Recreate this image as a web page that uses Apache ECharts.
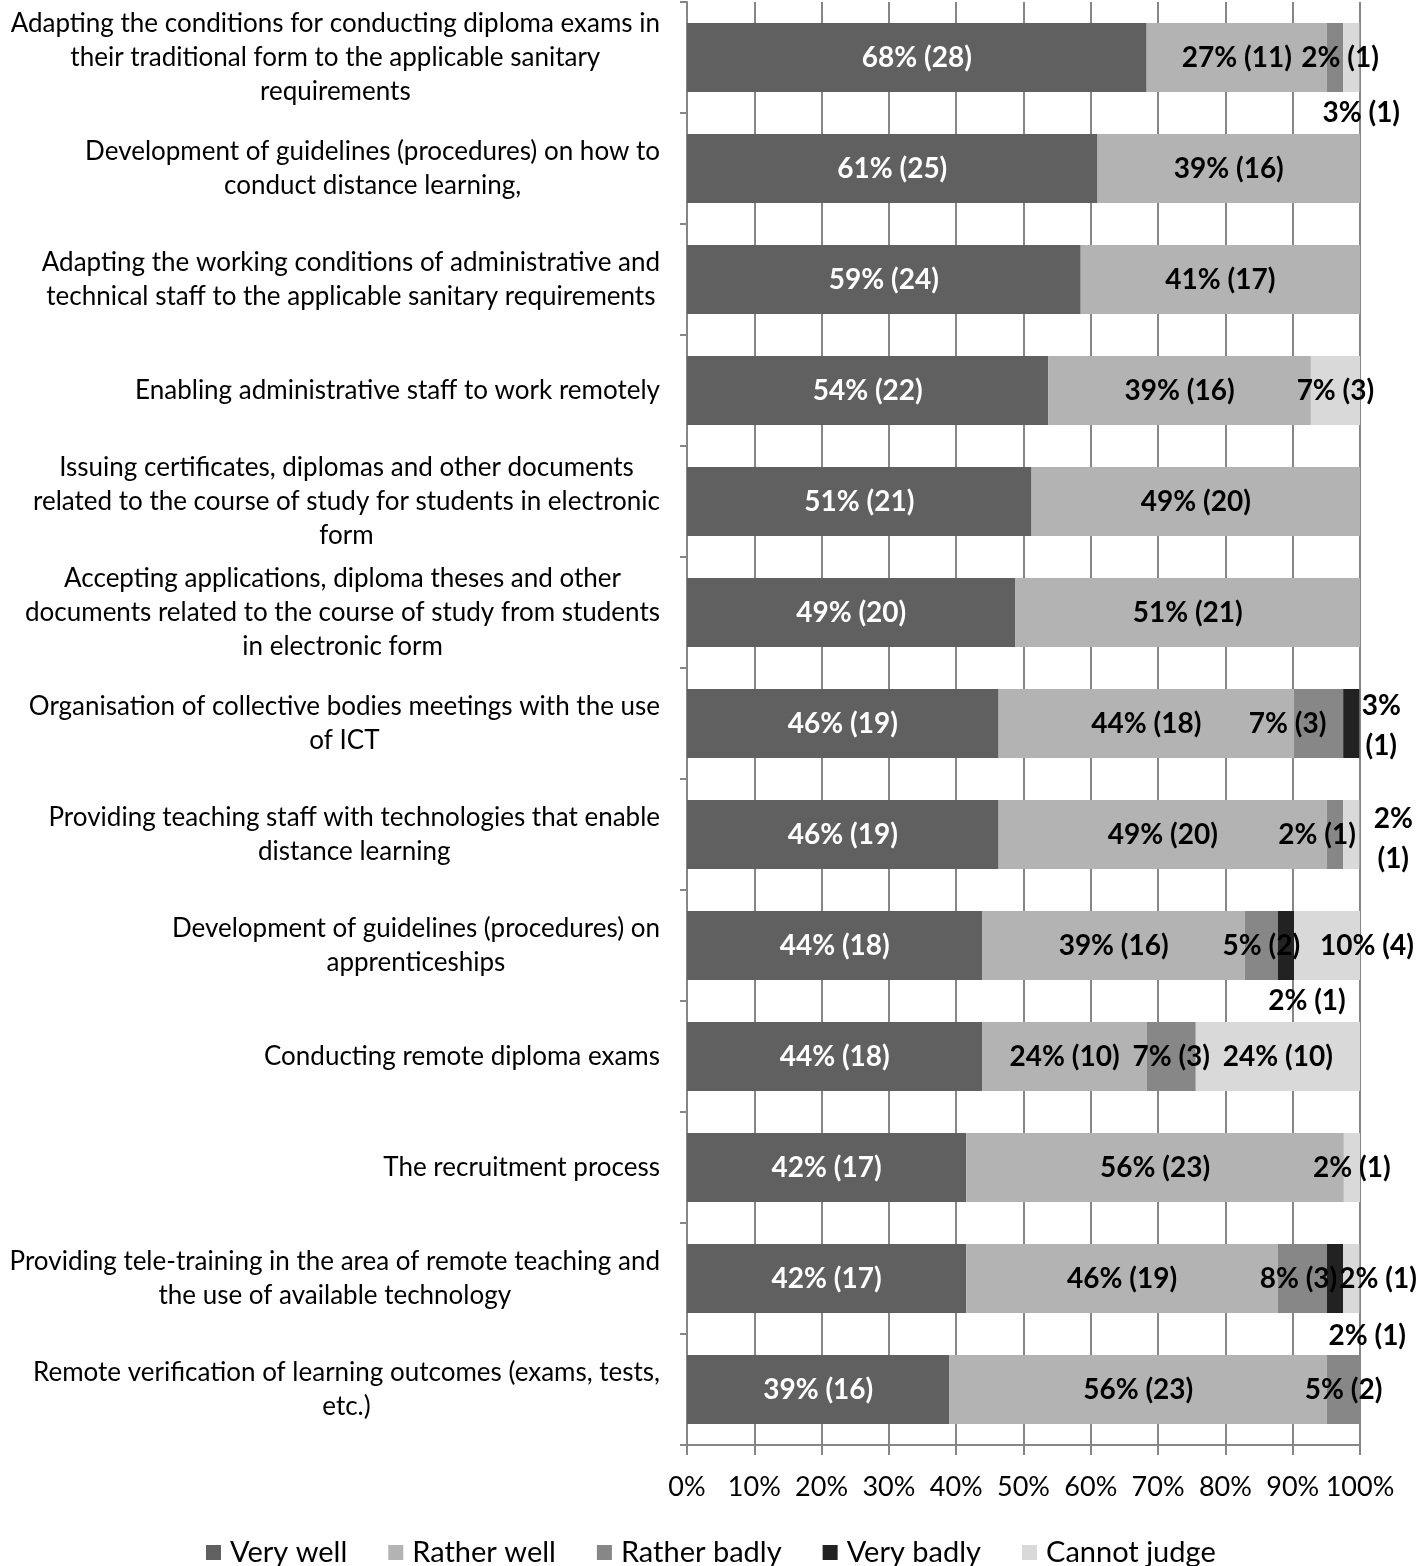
<!DOCTYPE html>
<html>
<head>
<meta charset="utf-8">
<script src="https://cdn.jsdelivr.net/npm/echarts@6/dist/echarts.min.js"></script>
<style>
html,body{margin:0;padding:0;background:#fff;}
#chart{width:1417px;height:1566px;}
</style>
</head>
<body>
<div id="chart"></div>
<script>
// ---- data ----
const categories = [
  "Adapting the conditions for conducting diploma exams in\ntheir traditional form to the applicable sanitary\nrequirements",
  "Development of guidelines (procedures) on how to\nconduct distance learning,",
  "Adapting the working conditions of administrative and\ntechnical staff to the applicable sanitary requirements",
  "Enabling administrative staff to work remotely",
  "Issuing certificates, diplomas and other documents\nrelated to the course of study for students in electronic\nform",
  "Accepting applications, diploma theses and other\ndocuments related to the course of study from students\nin electronic form",
  "Organisation of collective bodies meetings with the use\nof ICT",
  "Providing teaching staff with technologies that enable\ndistance learning",
  "Development of guidelines (procedures) on\napprenticeships",
  "Conducting remote diploma exams",
  "The recruitment process",
  "Providing tele-training in the area of remote teaching and\nthe use of available technology",
  "Remote verification of learning outcomes (exams, tests,\netc.)"
];
const seriesNames = ["Very well", "Rather well", "Rather badly", "Very badly", "Cannot judge"];

const veryWell    = [68.3, 61.0, 58.5, 53.7, 51.2, 48.8, 46.3, 46.3, 43.9, 43.9, 41.5, 41.5, 39.0];
const ratherWell  = [26.8, 39.0, 41.5, 39.0, 48.8, 51.2, 43.9, 48.8, 39.0, 24.4, 56.1, 46.3, 56.1];
const ratherBadly = [2.4, 0, 0, 0, 0, 0, 7.3, 2.4, 4.9, 7.3, 0, 7.3, 4.9];
const veryBadly   = [0, 0, 0, 0, 0, 0, 2.4, 0, 2.4, 0, 0, 2.4, 0];
const cannotJudge = [2.4, 0, 0, 7.3, 0, 0, 0, 2.4, 9.8, 24.4, 2.4, 2.4, 0];

const veryWellLabels    = ["68% (28)", "61% (25)", "59% (24)", "54% (22)", "51% (21)", "49% (20)", "46% (19)", "46% (19)", "44% (18)", "44% (18)", "42% (17)", "42% (17)", "39% (16)"];
const ratherWellLabels  = ["27% (11)", "39% (16)", "41% (17)", "39% (16)", "49% (20)", "51% (21)", "44% (18)", "49% (20)", "39% (16)", "24% (10)", "56% (23)", "46% (19)", "56% (23)"];
const ratherBadlyLabels = ["2% (1)", "", "", "", "", "", "7% (3)", "2% (1)", "5% (2)", "7% (3)", "", "8% (3)", "5% (2)"];
const veryBadlyLabels   = ["", "", "", "", "", "", "3%\n(1)", "", "2% (1)", "", "", "2% (1)", ""];
const cannotJudgeLabels = ["3% (1)", "", "", "7% (3)", "", "", "", "2%\n(1)", "10% (4)", "24% (10)", "2% (1)", "2% (1)", ""];

const xTicks = [0, 10, 20, 30, 40, 50, 60, 70, 80, 90, 100];

// ---- styling (kept apart from data) ----
const colors = ["#606060", "#b3b3b3", "#878787", "#222222", "#d9d9d9"];
const labelColors = ["#ffffff", "#000000", "#000000", "#000000", "#000000"];
const FONT = "Lato, 'Liberation Sans', sans-serif";
// manual label nudges: "seriesIndex-rowIndex": [dx, dy]
const labelNudges = {
  "2-0": [5, 0], "4-0": [10, 55],
  "2-6": [-31, 0], "3-6": [30, 2],
  "2-7": [-18, 0], "4-7": [42, 4],
  "3-8": [21, 55], "4-8": [40, 0],
  "2-11": [-4, 0], "3-11": [43, 0], "4-11": [16, 57]
};

const values = [veryWell, ratherWell, ratherBadly, veryBadly, cannotJudge];
const labels = [veryWellLabels, ratherWellLabels, ratherBadlyLabels, veryBadlyLabels, cannotJudgeLabels];

const series = seriesNames.map((name, si) => ({
  name: name,
  type: 'bar',
  stack: 'total',
  barCategoryGap: '38%',
  itemStyle: { color: colors[si] },
  label: {
    show: true,
    position: 'inside',
    color: labelColors[si],
    fontFamily: FONT,
    fontWeight: 'bold',
    fontSize: 28,
    lineHeight: 40,
    formatter: p => labels[si][p.dataIndex]
  },
  data: values[si].map((v, ri) => {
    const item = { value: v };
    const nudge = labelNudges[si + '-' + ri];
    if (nudge) item.label = { offset: nudge };
    if (!labels[si][ri]) item.label = { show: false };
    return item;
  })
}));

const chart = echarts.init(document.getElementById('chart'), null, { renderer: 'canvas' });
chart.setOption({
  animation: false,
  backgroundColor: '#ffffff',
  color: colors,
  grid: { left: 687, right: 57, top: 2, bottom: 121, containLabel: false },
  legend: {
    data: seriesNames,
    left: 201,
    top: 1533,
    icon: 'rect',
    itemWidth: 15,
    itemHeight: 15,
    itemGap: 41,
    textStyle: { fontFamily: FONT, fontSize: 29, color: '#000', padding: [0, 0, 0, 4] }
  },
  xAxis: {
    type: 'value',
    min: xTicks[0],
    max: xTicks[xTicks.length - 1],
    interval: 10,
    axisLine: { show: true, lineStyle: { color: '#868686', width: 2 } },
    axisTick: { show: true, length: 10, lineStyle: { color: '#868686', width: 2 } },
    splitLine: { show: true, lineStyle: { color: '#868686', width: 2 } },
    axisLabel: { formatter: '{value}%', fontFamily: FONT, fontSize: 27, color: '#000', margin: 29 }
  },
  yAxis: {
    type: 'category',
    inverse: true,
    data: categories,
    axisLine: { show: true, lineStyle: { color: '#868686', width: 2 } },
    axisTick: { show: true, length: 7, lineStyle: { color: '#868686', width: 2 } },
    axisLabel: {
      margin: 27,
      formatter: v => v.split('\n').map(l => '{c|' + l + '}').join('\n'),
      rich: {
        c: { align: 'center', fontFamily: FONT, fontSize: 26, lineHeight: 34, color: '#000' }
      }
    }
  },
  series: series
});
</script>
</body>
</html>
